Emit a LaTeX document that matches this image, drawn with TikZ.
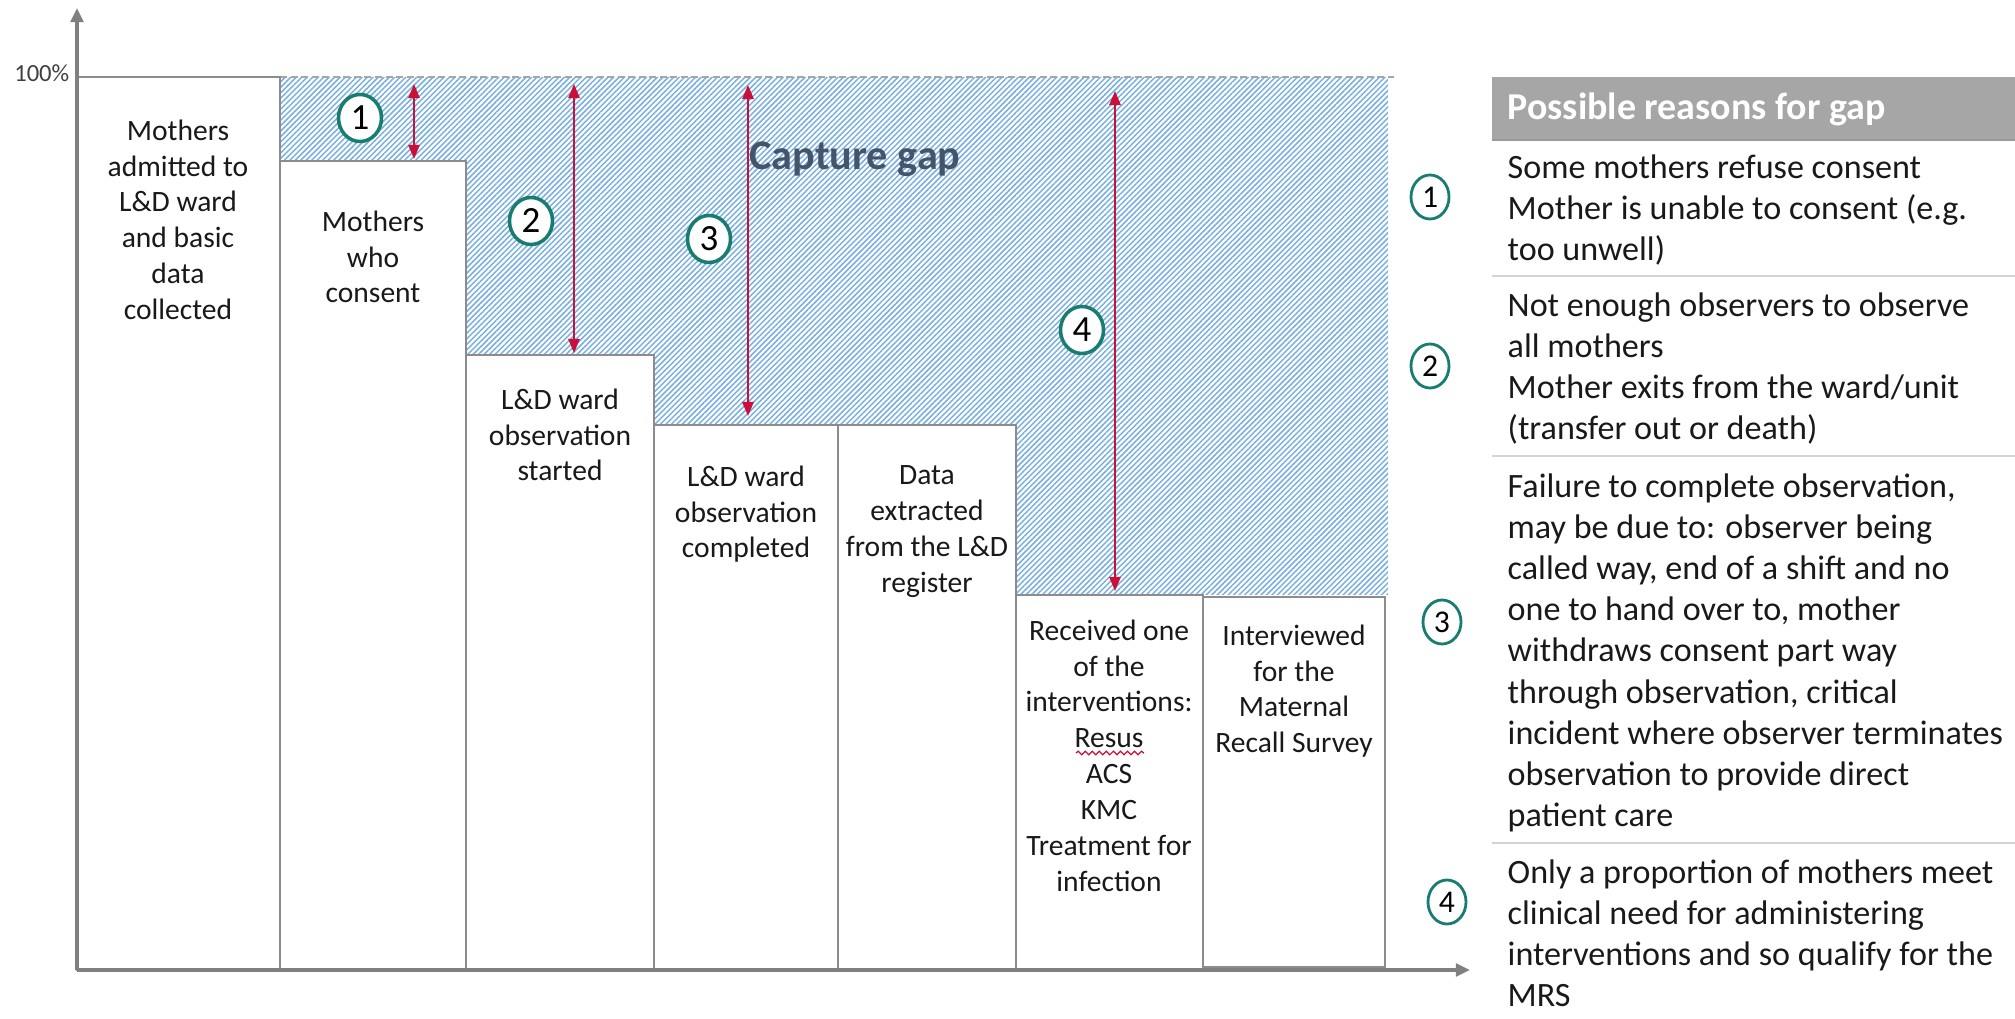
\documentclass[tikz,border=0pt]{standalone}
\usepackage{fontspec}
\setmainfont{Carlito}
\usetikzlibrary{positioning,arrows.meta,patterns.meta,shapes.geometric,decorations.pathmorphing}
\definecolor{AxisGray}{RGB}{128,128,128}
\definecolor{BarGray}{RGB}{140,140,140}
\definecolor{HatchBlue}{RGB}{118,174,228}
\definecolor{GapRed}{RGB}{200,16,56}
\definecolor{MarkTeal}{RGB}{24,124,112}
\definecolor{GapSlate}{RGB}{68,84,106}
\definecolor{HeadGray}{RGB}{166,166,166}
\definecolor{RuleGray}{RGB}{212,212,212}
\tikzset{
  axis/.style={draw=AxisGray,line width=0.9pt,-{Triangle[length=4pt,width=3.6pt]}},
  bar/.style={draw=BarGray,fill=white,line width=0.55pt},
  bartext/.style={anchor=north,align=center,inner sep=0pt,
    font=\fontsize{8.4}{10.2}\selectfont,text=black!90},
  gaparrow/.style={draw=GapRed,line width=0.6pt,
    {Triangle[length=4pt,width=3.2pt]}-{Triangle[length=4pt,width=3.2pt]}},
  numring/.style={ellipse,draw=MarkTeal,line width=1pt,fill=white,
    minimum width=0.43cm,minimum height=0.47cm,inner sep=0pt,font=\fontsize{10.5}{11}\selectfont},
  sidering/.style={ellipse,draw=MarkTeal,line width=0.8pt,minimum width=0.38cm,
    minimum height=0.44cm,inner sep=0pt,font=\fontsize{9}{10}\selectfont},
  reason/.style={anchor=north west,align=left,inner sep=0pt,
    font=\fontsize{9.7}{11.7}\selectfont,text=black!90},
  rule/.style={draw=RuleGray,line width=0.8pt},
}

\begin{document}
\begin{tikzpicture}[x=0.01cm,y=-0.01cm]
\useasboundingbox (0,0) rectangle (2015,1019);
% capture gap area
\fill[pattern={Lines[angle=45,distance=1.1pt,line width=0.42pt]},pattern color=HatchBlue]
  (280,77) -- (1388,77) -- (1388,595) -- (1016,595) -- (1016,425) -- (654,425)
  -- (654,355) -- (466,355) -- (466,161) -- (280,161) -- cycle;
\draw[draw=black!35,line width=0.8pt,dash pattern=on 2pt off 1pt] (280,77) -- (1394,77);
% bars
\draw[bar] (77,77) rectangle (280,970);
\draw[bar] (280,161) rectangle (466,970);
\draw[bar] (466,355) rectangle (654,970);
\draw[bar] (654,425) rectangle (838,970);
\draw[bar] (838,425) rectangle (1016,970);
\draw[bar] (1016,595) rectangle (1203,970);
\draw[bar] (1203,597) rectangle (1385,967);
% axes
\coordinate (o) at (77,970);
\coordinate (ytip) at (77,8);
\coordinate (xtip) at (1470,970);
\draw[axis] (o) -- (ytip);
\draw[axis] (o) -- (xtip);
\node[anchor=east,inner sep=0pt,font=\fontsize{7}{8}\selectfont,text=black!75] (full) at (70,73) {100\%};
% bar labels
\node[bartext] (t1) at (178,119) {Mothers\\admitted to\\L\&D ward\\and basic\\data\\collected};
\node[bartext] (t2) at (373,210) {Mothers\\who\\consent};
\node[bartext] (t3) at (560,388) {L\&D ward\\observation\\started};
\node[bartext] (t4) at (746,465) {L\&D ward\\observation\\completed};
\node[bartext] (t5) at (927,465) {Data\\extracted\\from the L\&D\\register};
\node[bartext] (t6) at (1109,619) {Received one\\of the\\interventions:\\Resus\\ACS\\KMC\\Treatment for\\infection};
\node[bartext] (t7) at (1294,624) {Interviewed\\for the\\Maternal\\Recall Survey};
\coordinate (sq1) at (1076,753);
\coordinate (sq2) at (1144,753);
\draw[GapRed,line width=0.35pt,decorate,decoration={snake,amplitude=0.5pt,segment length=2pt}] (sq1) -- (sq2);
% gap arrows
\coordinate (g1a) at (414,84);
\coordinate (g1b) at (414,159);
\coordinate (g2a) at (574,84);
\coordinate (g2b) at (574,353);
\coordinate (g3a) at (748,85);
\coordinate (g3b) at (748,416);
\coordinate (g4a) at (1115,91);
\coordinate (g4b) at (1115,591);
\draw[gaparrow] (g1a) -- (g1b);
\draw[gaparrow] (g2a) -- (g2b);
\draw[gaparrow] (g3a) -- (g3b);
\draw[gaparrow] (g4a) -- (g4b);
\node[numring] (n1) at (360,118) {1};
\node[numring] (n2) at (531,221) {2};
\node[numring] (n3) at (709,239) {3};
\node[numring] (n4) at (1082,330) {4};
\node[font=\bfseries\fontsize{12}{14}\selectfont,text=GapSlate] (gap) at (855,159) {Capture gap};
% reasons table
\fill[HeadGray] (1492,77) rectangle (2015,140);
\draw[draw=black!40,line width=0.6pt] (1492,140) -- (2015,140);
\node[anchor=west,inner sep=0pt,text=white,font=\bfseries\fontsize{10.8}{13}\selectfont] (head) at (1507,109) {Possible reasons for gap};
\node[reason] (r1) at (1507,154) {Some mothers refuse consent\\Mother is unable to consent (e.g.\\too unwell)};
\draw[rule] (1492,276) -- (2015,276);
\node[reason] (r2) at (1507,292) {Not enough observers to observe\\all mothers\\Mother exits from the ward/unit\\(transfer out or death)};
\draw[rule] (1492,456) -- (2015,456);
\node[reason] (r3) at (1507,473) {Failure to complete observation,\\may be due to: observer being\\called way, end of a shift and no\\one to hand over to, mother\\withdraws consent part way\\through observation, critical\\incident where observer terminates\\observation to provide direct\\patient care};
\draw[rule] (1492,843) -- (2015,843);
\node[reason] (r4) at (1507,859) {Only a proportion of mothers meet\\clinical need for administering\\interventions and so qualify for the\\MRS};
\node[sidering] (s1) at (1430,197) {1};
\node[sidering] (s2) at (1430,366) {2};
\node[sidering] (s3) at (1442,622) {3};
\node[sidering] (s4) at (1447,902) {4};
\end{tikzpicture}
\end{document}
